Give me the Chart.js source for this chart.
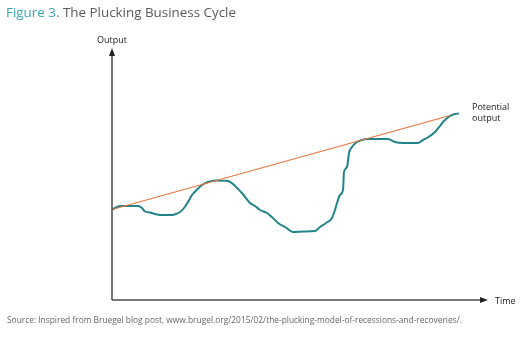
<!DOCTYPE html>
<html>
<head>
<meta charset="utf-8">
<script src="https://cdn.jsdelivr.net/npm/chart.js@4/dist/chart.umd.min.js"></script>
<style>
  body { margin: 0; background: #fff; font-family: "Open Sans", sans-serif; }
  #wrap { position: relative; width: 522px; height: 339px; }
  #title { position: absolute; left: 6px; top: 3px; font-size: 13.4px; color: #5a5a5a; white-space: nowrap; }
  #title span { color: #3ba3b5; }
  #source { position: absolute; left: 7px; top: 314px; font-size: 8.4px; color: #666; white-space: nowrap; }
  canvas { position: absolute; left: 0; top: 0; }
</style>
</head>
<body>
<div id="wrap">
  <canvas id="firstChart" width="522" height="339"></canvas>
  <div id="title"><span>Figure 3.</span> The Plucking Business Cycle</div>
  <div id="source">Source: Inspired from Bruegel blog post, www.brugel.org/2015/02/the-plucking-model-of-recessions-and-recoveries/.</div>
</div>
<script>
// time (arbitrary units) and output levels
const timeValues = [0, 4, 8, 18, 26, 30, 33, 38, 43, 48, 60, 64, 68, 72, 76, 80, 85, 90, 96, 103, 116, 121, 125, 130, 138, 143, 148, 155, 161, 166, 173, 181, 192, 203, 208, 214, 220, 223, 225, 228, 231, 232, 235, 237, 240, 245, 250, 255, 276, 283, 291, 306, 311, 315, 323, 328, 331, 338, 343, 347];
const actualOutput = [90.5, 92.5, 94, 94, 94, 92, 88.5, 87.5, 86, 85, 85, 86, 88, 92, 98, 105, 110.5, 115, 118, 119.5, 119, 116, 112, 107, 97, 94, 90, 87, 82, 77, 73, 68, 68.5, 69, 73, 77, 82, 90, 97, 105, 110, 128, 133, 147, 153, 158, 160, 161, 161, 158, 157, 157, 160, 162, 168, 174, 178, 184, 186, 186.5];
const trendTime = [0, 338];
const potentialOutput = [90.5, 184.5];

const axisLabels = { y: 'Output', x: 'Time', trend: ['Potential', 'output'] };

const actualPoints = timeValues.map((t, i) => ({ x: t, y: actualOutput[i] }));
const trendPoints = trendTime.map((t, i) => ({ x: t, y: potentialOutput[i] }));

const axesPlugin = {
    id: 'axesPlugin',
    afterDraw(chart) {
        const ctx = chart.ctx;
        const a = chart.chartArea;
        const xs = chart.scales.x, ys = chart.scales.y;
        const x0 = xs.getPixelForValue(0), y0 = ys.getPixelForValue(0);
        ctx.save();
        ctx.strokeStyle = '#4d4d4d';
        ctx.fillStyle = '#222';
        ctx.lineWidth = 1.5;
        ctx.beginPath();
        ctx.moveTo(x0, y0);
        ctx.lineTo(x0, a.top + 5);
        ctx.moveTo(x0, y0);
        ctx.lineTo(a.right - 5, y0);
        ctx.stroke();
        // arrow heads
        ctx.beginPath();
        ctx.moveTo(x0, a.top);
        ctx.lineTo(x0 - 3, a.top + 8);
        ctx.lineTo(x0 + 3, a.top + 8);
        ctx.closePath();
        ctx.moveTo(a.right, y0);
        ctx.lineTo(a.right - 8, y0 - 3);
        ctx.lineTo(a.right - 8, y0 + 3);
        ctx.closePath();
        ctx.fill();

        ctx.font = '9px "Open Sans", sans-serif';
        ctx.fillStyle = '#222';
        ctx.textBaseline = 'middle';
        ctx.textAlign = 'center';
        ctx.fillText(axisLabels.y, x0, a.top - 8);
        ctx.textAlign = 'left';
        ctx.fillText(axisLabels.x, a.right + 7, y0 + 1);
        const lx = xs.getPixelForValue(trendTime[1]) + 22;
        const ly = ys.getPixelForValue(potentialOutput[1]) - 8;
        ctx.fillText(axisLabels.trend[0], lx, ly);
        ctx.fillText(axisLabels.trend[1], lx, ly + 11);
        ctx.restore();
    }
};

const config = {
    type: 'line',
    data: {
        datasets: [
            {
                label: 'Potential output',
                data: trendPoints,
                borderColor: '#e8743b',
                borderWidth: 1.2,
                pointRadius: 0,
                fill: false
            },
            {
                label: 'Output',
                data: actualPoints,
                borderColor: '#23838a',
                borderWidth: 2,
                pointRadius: 0,
                tension: 0.3,
                cubicInterpolationMode: 'monotone',
                fill: false
            }
        ]
    },
    options: {
        responsive: false,
        animation: false,
        layout: { padding: { left: 112, right: 34, top: 48, bottom: 39 } },
        plugins: { legend: { display: false }, tooltip: { enabled: false } },
        scales: {
            x: { type: 'linear', min: 0, max: 376, display: false },
            y: { type: 'linear', min: 0, max: 252, display: false }
        }
    },
    plugins: [axesPlugin]
};

const firstChart = new Chart(
document.getElementById('firstChart').getContext('2d'),
config
);
</script>
</body>
</html>
